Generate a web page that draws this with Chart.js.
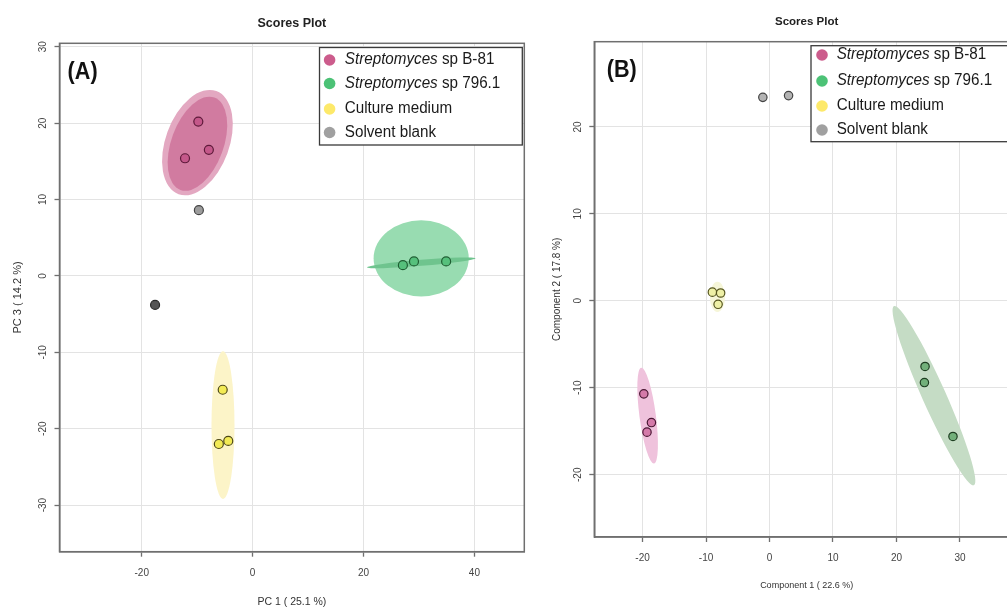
<!DOCTYPE html>
<html><head><meta charset="utf-8">
<script src="https://cdn.jsdelivr.net/npm/chart.js@4.4.1/dist/chart.umd.min.js"></script>
<style>
html,body{margin:0;padding:0;background:#fff;overflow:hidden;width:1007px;height:608px;position:relative;}
#wa{position:absolute;left:0;top:0;width:530px;height:608px;}
#wb{position:absolute;left:530px;top:0;width:500px;height:608px;}
canvas{display:block;}
</style></head><body>
<div id="wa"><canvas id="ca" width="530" height="608"></canvas></div>
<div id="wb"><canvas id="cb" width="500" height="608"></canvas></div>
<script>
// ---------- shared ----------
const groupLabels = ['Streptomyces sp B-81', 'Streptomyces sp 796.1', 'Culture medium', 'Solvent blank'];
const italicPrefix = 'Streptomyces';

// ---------- Panel A : PCA scores (PC1 vs PC3) ----------
const aTicksX = [-20, 0, 20, 40];
const aTicksY = [-30, -20, -10, 0, 10, 20, 30];
const aB81X = [-9.8, -12.2, -7.9];
const aB81Y = [20.2, 15.4, 16.5];
const a796X = [27.1, 29.1, 34.9];
const a796Y = [1.4, 1.9, 1.9];
const aMedX = [-5.4, -6.1, -4.4];
const aMedY = [-14.9, -22.0, -21.6];
const aBlankX = [-9.7, -17.6];
const aBlankY = [8.6, -3.8];
// confidence ellipses: centre, end of major semi-axis, minor/major ratio
const aEllCx = [-9.96, -9.96, 30.4, 30.4, -5.35];
const aEllCy = [17.45, 17.3, 2.3, 1.71, -19.53];
const aEllEx = [-6.55, -6.9, 38.98, 40.2, -5.35];
const aEllEy = [24.2, 23.35, 2.3, 2.3, -9.87];
const aEllR = [0.58, 0.53, 0.80, 0.055, 0.156];

// ---------- Panel B : PLS-DA scores (Comp 1 vs Comp 2) ----------
const bTicksX = [-20, -10, 0, 10, 20, 30];
const bTicksY = [-20, -10, 0, 10, 20];
const bB81X = [-19.8, -18.6, -19.3];
const bB81Y = [-10.7, -14.0, -15.1];
const b796X = [24.5, 24.4, 28.9];
const b796Y = [-7.55, -9.4, -15.6];
const bMedX = [-9.0, -7.7, -8.1];
const bMedY = [1.0, 0.9, -0.4];
const bBlankX = [-1.05, 3.0];
const bBlankY = [23.4, 23.6];
const bEllCx = [-19.2, 25.9, -8.2];
const bEllCy = [-13.2, -10.9, 0.46];
const bEllEx = [-20.2, 19.6, -8.2];
const bEllEy = [-7.7, -0.6, 2.2];
const bEllR = [0.17, 0.12, 0.5];

const pts = (xs, ys) => xs.map((x, i) => ({x, y: ys[i]}));
const FONT = '"Liberation Sans", Arial, sans-serif';

function panel(canvasId, cfg) {
  const ellipses = cfg.ell.cx.map((cx, i) => ({cx, cy: cfg.ell.cy[i], ex: cfg.ell.ex[i], ey: cfg.ell.ey[i], r: cfg.ell.r[i], color: cfg.ellColors[i]}));
  const decor = {
    id: 'decor',
    beforeDatasetsDraw(chart) {
      const {ctx, chartArea: a, scales: {x, y}} = chart;
      ctx.save();
      ctx.beginPath();
      ctx.rect(a.left, a.top, a.right - a.left, a.bottom - a.top);
      ctx.clip();
      ellipses.forEach(e => {
        const cx = x.getPixelForValue(e.cx), cy = y.getPixelForValue(e.cy);
        const ex = x.getPixelForValue(e.ex), ey = y.getPixelForValue(e.ey);
        const ra = Math.hypot(ex - cx, ey - cy);
        const ang = Math.atan2(ey - cy, ex - cx);
        ctx.beginPath();
        ctx.ellipse(cx, cy, ra, ra * e.r, ang, 0, Math.PI * 2);
        ctx.fillStyle = e.color;
        ctx.fill();
      });
      ctx.restore();
      ctx.save();
      ctx.strokeStyle = '#6f6f6f';
      ctx.lineWidth = 1.5;
      ctx.strokeRect(a.left, a.top, a.right - a.left, a.bottom - a.top);
      ctx.restore();
    },
    afterDraw(chart) {
      const {ctx, chartArea: a} = chart;
      ctx.save();
      // title
      ctx.fillStyle = '#222';
      ctx.font = 'bold ' + cfg.titleSize + 'px ' + FONT;
      ctx.textAlign = 'center';
      ctx.textBaseline = 'middle';
      ctx.fillText('Scores Plot', (a.left + a.right) / 2, cfg.titleY);
      // panel letter
      ctx.save();
      ctx.translate(cfg.letterX, cfg.letterY);
      ctx.scale(0.9, 1);
      ctx.font = 'bold 24px ' + FONT;
      ctx.textAlign = 'left';
      ctx.fillStyle = '#111';
      ctx.fillText(cfg.letter, 0, 0);
      ctx.restore();
      // legend
      const L = cfg.legend;
      ctx.fillStyle = '#fff';
      ctx.fillRect(L.left, L.top, L.right - L.left, L.bottom - L.top);
      ctx.strokeStyle = '#3a3a3a';
      ctx.lineWidth = 1.3;
      ctx.strokeRect(L.left, L.top, L.right - L.left, L.bottom - L.top);
      groupLabels.forEach((lab, i) => {
        const yy = L.rows[i];
        ctx.beginPath();
        ctx.arc(L.dotX, yy, 5.8, 0, Math.PI * 2);
        ctx.fillStyle = cfg.legendColors[i];
        ctx.fill();
        ctx.save();
        ctx.translate(L.textX, yy);
        ctx.scale(0.95, 1);
        ctx.fillStyle = '#1a1a1a';
        ctx.textAlign = 'left';
        ctx.textBaseline = 'middle';
        let xx = 0;
        let rest = lab;
        if (lab.startsWith(italicPrefix)) {
          ctx.font = 'italic 16px ' + FONT;
          ctx.fillText(italicPrefix, 0, 0);
          xx = ctx.measureText(italicPrefix).width;
          rest = lab.slice(italicPrefix.length);
        }
        ctx.font = '16px ' + FONT;
        ctx.fillText(rest, xx, 0);
        ctx.restore();
      });
      ctx.restore();
    }
  };

  const datasets = cfg.series.map((s, i) => ({
    label: groupLabels[i],
    data: s.data,
    pointRadius: cfg.pointRadius,
    pointBorderWidth: 1.2,
    pointBackgroundColor: s.fill,
    pointBorderColor: s.border,
    showLine: false
  }));

  return new Chart(document.getElementById(canvasId), {
    type: 'scatter',
    data: {datasets},
    plugins: [decor],
    options: {
      responsive: false,
      devicePixelRatio: 1,
      animation: false,
      events: [],
      layout: {padding: cfg.pad},
      plugins: {legend: {display: false}, tooltip: {enabled: false}, title: {display: false}},
      scales: {
        x: {
          type: 'linear',
          min: cfg.xMin, max: cfg.xMax,
          afterBuildTicks: s => { s.ticks = cfg.ticksX.map(v => ({value: v})); },
          afterFit: s => { s.height = cfg.xAxisH; },
          ticks: {font: {family: FONT, size: 10}, color: '#444', padding: cfg.xTickPad, maxRotation: 0, minRotation: 0},
          grid: {color: '#e3e3e3', lineWidth: 1, tickColor: '#6f6f6f', tickLength: 5, tickWidth: 1.3},
          border: {display: true, color: '#6f6f6f', width: 1.5},
          title: {display: true, text: cfg.xTitle, font: {family: FONT, size: cfg.xTitleSize}, color: '#333', padding: {top: 0, bottom: cfg.xTitlePad}}
        },
        y: {
          type: 'linear',
          min: cfg.yMin, max: cfg.yMax,
          afterBuildTicks: s => { s.ticks = cfg.ticksY.map(v => ({value: v})); },
          afterFit: s => { s.width = cfg.yAxisW; },
          ticks: {font: {family: FONT, size: 10}, color: '#444', padding: cfg.yTickPad, minRotation: 90, maxRotation: 90, crossAlign: 'center'},
          grid: {color: '#e3e3e3', lineWidth: 1, tickColor: '#6f6f6f', tickLength: 5, tickWidth: 1.3},
          border: {display: true, color: '#6f6f6f', width: 1.5},
          title: {display: true, text: cfg.yTitle, font: {family: FONT, size: cfg.yTitleSize}, color: '#333', padding: {top: cfg.yTitlePad, bottom: 0}}
        }
      }
    }
  });
}

panel('ca', {
  xMin: -34.84, xMax: 49.0, yMin: -36.1, yMax: 30.45,
  ticksX: aTicksX, ticksY: aTicksY,
  pad: {left: 0, top: 43.3, right: 4.3, bottom: 0},
  xAxisH: 56.3, yAxisW: 59.5,
  xTickPad: 11, yTickPad: 4.3,
  xTitle: 'PC 1 ( 25.1 %)', xTitleSize: 10.5, xTitlePad: 0,
  yTitle: 'PC 3 ( 14.2 %)', yTitleSize: 11, yTitlePad: 11.2,
  titleSize: 12.5, titleY: 24,
  letter: '(A)', letterX: 67.6, letterY: 72,
  pointRadius: 4.5,
  series: [
    {data: pts(aB81X, aB81Y), fill: '#c4588a', border: '#5e1a3a'},
    {data: pts(a796X, a796Y), fill: '#56c07c', border: '#1f5e33'},
    {data: pts(aMedX, aMedY), fill: '#f2ea55', border: '#4f4a18'},
    {data: pts(aBlankX, aBlankY), fill: ['#9c9c9c', '#555555'], border: ['#444', '#2a2a2a']}
  ],
  ell: {cx: aEllCx, cy: aEllCy, ex: aEllEx, ey: aEllEy, r: aEllR},
  ellColors: ['#e3a8c1', '#d17ba0', '#98dcb1', '#6fc48e', '#fcf4c8'],
  legend: {left: 319.5, top: 47.5, right: 522.3, bottom: 145, dotX: 329.6, textX: 344.8, rows: [60, 83.5, 109, 132.5]},
  legendColors: ['#cc5c8c', '#4cc276', '#fde96a', '#a0a0a0']
});

panel('cb', {
  xMin: -27.6, xMax: 39.3, yMin: -27.16, yMax: 29.8,
  ticksX: bTicksX, ticksY: bTicksY,
  pad: {left: 0, top: 41.7, right: 11, bottom: 0},
  xAxisH: 71, yAxisW: 64.3,
  xTickPad: 10, yTickPad: 3.8,
  xTitle: 'Component 1 ( 22.6 %)', xTitleSize: 9, xTitlePad: 16.8,
  yTitle: 'Component 2 ( 17.8 %)', yTitleSize: 10, yTitlePad: 20.8,
  titleSize: 11.5, titleY: 22,
  letter: '(B)', letterX: 76.7, letterY: 70,
  pointRadius: 4.2,
  series: [
    {data: pts(bB81X, bB81Y), fill: '#d47aa9', border: '#4a1733'},
    {data: pts(b796X, b796Y), fill: '#72b07a', border: '#1f3f22'},
    {data: pts(bMedX, bMedY), fill: '#eef0a6', border: '#55551f'},
    {data: pts(bBlankX, bBlankY), fill: '#b3b3b3', border: '#444'}
  ],
  ell: {cx: bEllCx, cy: bEllCy, ex: bEllEx, ey: bEllEy, r: bEllR},
  ellColors: ['#efc2dc', '#c5dcc5', '#f6f6d8'],
  legend: {left: 281, top: 45.7, right: 484, bottom: 141.7, dotX: 292, textX: 306.7, rows: [55, 81, 106, 130]},
  legendColors: ['#cc5c8c', '#4cc276', '#fde96a', '#a0a0a0']
});
</script>
</body></html>
